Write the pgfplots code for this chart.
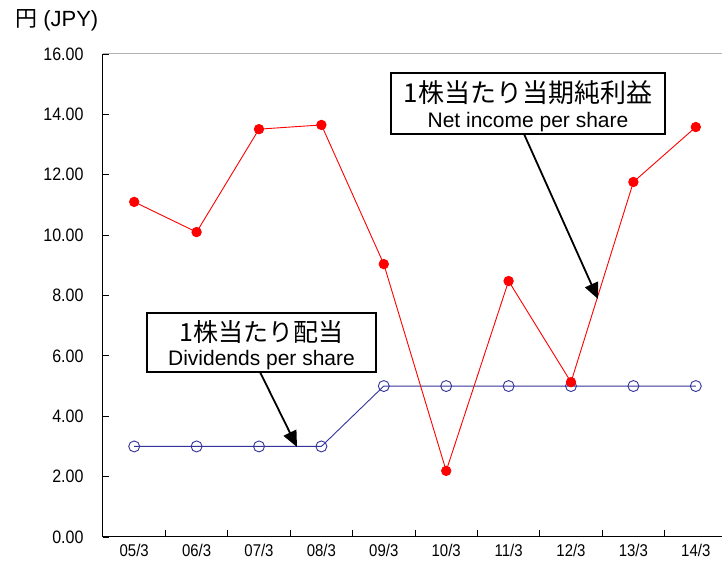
\documentclass[border=0pt]{standalone}
\usepackage{graphicx}
\usepackage{pgfplots}
\pgfplotsset{compat=1.18}
\usepackage{fontspec}
\setmainfont{Liberation Sans}
\newfontfamily\cjk{Noto Sans CJK JP}
\usetikzlibrary{arrows.meta}
\definecolor{navy}{RGB}{51,51,153}
\newcommand{\xl}[1]{\scalebox{0.88}[1]{#1}}
\begin{document}
\begin{tikzpicture}[x=1bp,y=1bp]
\useasboundingbox (-103,-32) rectangle (619,537);
\begin{axis}[
  at={(0,0)}, anchor=south west,
  scale only axis, width=619bp, height=483bp,
  xmin=-0.5, xmax=9.42, ymin=0, ymax=16,
  axis x line*=bottom, axis y line*=left,
  axis line style={black, line width=1bp, -},
  tick align=inside,
  xtick={0,...,9},
  xticklabels={\xl{05/3},\xl{06/3},\xl{07/3},\xl{08/3},\xl{09/3},\xl{10/3},\xl{11/3},\xl{12/3},\xl{13/3},\xl{14/3}},
  major x tick style={draw=none},
  minor xtick={0.5,1.5,...,8.5},
  minor x tick style={black, line width=0.8bp},
  minor tick length=7bp,
  ytick={0,2,...,16},
  major tick length=6bp,
  y tick style={black, line width=0.8bp},
  /pgf/number format/assume math mode=true,
  yticklabel={\scalebox{0.89}[1]{\pgfmathprintnumber[fixed,fixed zerofill,precision=2,assume math mode=true]{\tick}}},
  yticklabel style={font=\fontsize{18bp}{21bp}\selectfont, xshift=-16bp},
  xticklabel style={font=\fontsize{17bp}{20bp}\selectfont, yshift=-4bp},
  clip=false
]
\draw[gray!60, line width=1bp] (rel axis cs:0,1) -- (rel axis cs:1,1);
\addplot[navy, line width=0.9bp, mark=o, mark size=5.5bp, mark options={line width=0.9bp}]
  coordinates {(0,3) (1,3) (2,3) (3,3) (4,5) (5,5) (6,5) (7,5) (8,5) (9,5)};
\addplot[red, line width=0.9bp, mark=*, mark size=4.7bp]
  coordinates {(0,11.10) (1,10.10) (2,13.51) (3,13.65) (4,9.04) (5,2.19) (6,8.48) (7,5.13) (8,11.76) (9,13.58)};
\end{axis}
\node[anchor=west, inner sep=0] at (-88,517) {\fontsize{22bp}{26bp}\selectfont{\cjk 円}\ (JPY)};
% annotation 1
\draw[black, line width=1.8bp, -{Triangle[length=16bp,width=14bp]}] (421,403) -- (495,238);
\node[draw=black, line width=1.4bp, fill=white, minimum width=274bp, minimum height=61bp, inner sep=0] at (425,433.5) {};
\node[inner sep=0] at (425,444) {\cjk\fontsize{26bp}{30bp}\selectfont 1株当たり当期純利益};
\node[inner sep=0] at (425,415) {\fontsize{21bp}{25bp}\selectfont Net income per share};
% annotation 2
\draw[black, line width=1.8bp, -{Triangle[length=16bp,width=14bp]}] (157,165) -- (194,90);
\node[draw=black, line width=1.4bp, fill=white, minimum width=229bp, minimum height=59bp, inner sep=0] at (158.5,194.5) {};
\node[inner sep=0] at (158.5,205) {\cjk\fontsize{25bp}{29bp}\selectfont 1株当たり配当};
\node[inner sep=0] at (158.5,177) {\fontsize{21bp}{25bp}\selectfont Dividends per share};
\end{tikzpicture}
\end{document}
